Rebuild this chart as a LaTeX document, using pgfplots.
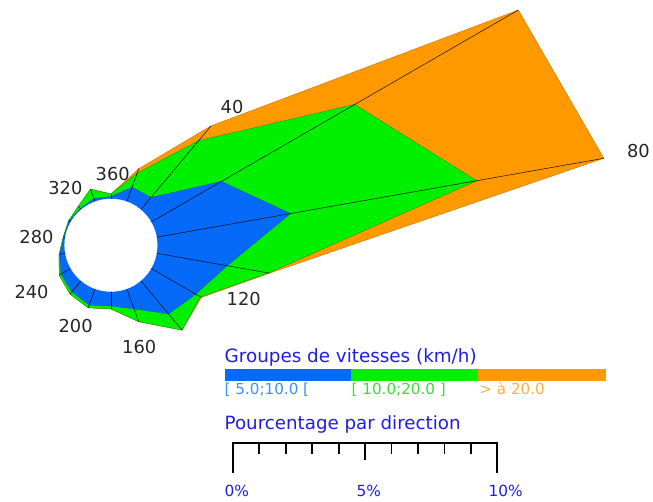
\documentclass[border=0pt]{standalone}
\usepackage{fontspec}
\setmainfont{DejaVu Sans}
\usepackage{pgfplots}
\usepackage{pgfplotstable}
\pgfplotsset{compat=1.18}
\definecolor{cblue}{RGB}{5,105,250}
\definecolor{cgreen}{RGB}{0,240,0}
\definecolor{corange}{RGB}{255,153,0}
\definecolor{ctext}{RGB}{30,30,225}
\definecolor{lblue}{RGB}{60,145,250}
\definecolor{lgreen}{RGB}{50,225,50}
\definecolor{lorange}{RGB}{255,175,60}

% cumulative percentages per direction (blue, blue+green, total)
\pgfplotstableread{
dir blue green orange
0   0.09 0.19 0.19
20  0.58 1.15 1.33
40  0.61 3.41 4.14
60  3.07 8.89 16.03
80  5.14 12.29 17.17
100 2.71 4.30 4.34
120 1.95 2.16 2.20
140 1.64 2.44 2.44
160 0.81 1.33 1.33
180 0.55 0.66 0.66
200 0.66 0.77 0.77
220 0.55 0.66 0.66
240 0.43 0.51 0.51
260 0.21 0.24 0.24
280 0.06 0.08 0.08
300 0.08 0.10 0.10
320 0.06 0.17 0.17
340 0.13 0.51 0.51
360 0.09 0.19 0.19
}\rose

\begin{document}
\begin{tikzpicture}
\begin{axis}[
  x=26.6bp, y=26.6bp,
  xmin=-4.1917, xmax=20.357, ymin=-9.680, ymax=9.267,
  hide axis, clip=false,
]
\path (rel axis cs:0,0) rectangle (rel axis cs:1,1);
% orange (total)
\addplot[fill=corange, draw=corange!70!black, line width=0.3bp]
  table[x expr={(\thisrow{orange}+1.748)*cos(90-\thisrow{dir})},
        y expr={(\thisrow{orange}+1.748)*sin(90-\thisrow{dir})}] {\rose};
% green
\addplot[fill=cgreen, draw=cgreen!60!black, line width=0.3bp]
  table[x expr={(\thisrow{green}+1.748)*cos(90-\thisrow{dir})},
        y expr={(\thisrow{green}+1.748)*sin(90-\thisrow{dir})}] {\rose};
% blue
\addplot[fill=cblue, draw=cblue!70!black, line width=0.3bp]
  table[x expr={(\thisrow{blue}+1.748)*cos(90-\thisrow{dir})},
        y expr={(\thisrow{blue}+1.748)*sin(90-\thisrow{dir})}] {\rose};
% rays
\addplot[black, line width=0.45bp, quiver={
    u={(\thisrow{orange}+1.748)*cos(90-\thisrow{dir})},
    v={(\thisrow{orange}+1.748)*sin(90-\thisrow{dir})}}]
  table[x expr=0, y expr=0] {\rose};
% calm circle
\addplot[only marks, mark=*, mark size=46.5bp, mark options={fill=white, draw=white}]
  coordinates {(0,0)};
\node[font=\fontsize{18}{21}\selectfont, text=black!85] at (axis cs:0,0) {47.3};
% direction labels
\begin{scope}[every node/.style={font=\fontsize{18}{21}\selectfont, text=black!85}]
\node at (axis cs:4.579,5.233) {40};
\node at (axis cs:19.932,3.564) {80};
\node at (axis cs:5.019,-2.038) {120};
\node at (axis cs:1.071,-3.835) {160};
\node at (axis cs:-1.335,-3.038) {200};
\node at (axis cs:-3.0,-1.786) {240};
\node at (axis cs:-2.812,0.308) {280};
\node at (axis cs:-1.722,2.162) {320};
\node at (axis cs:0.068,2.688) {360};
\end{scope}
% legend: speed groups
\node[anchor=base west, inner sep=0pt, text=ctext, font=\fontsize{18.5}{21}\selectfont] at (axis cs:4.293,-4.429) {Groupes de vitesses (km/h)};
\fill[cblue] (axis cs:4.293,-4.680) rectangle (axis cs:9.068,-5.143);
\fill[cgreen] (axis cs:9.068,-4.680) rectangle (axis cs:13.880,-5.143);
\fill[corange] (axis cs:13.880,-4.680) rectangle (axis cs:18.703,-5.143);
\node[anchor=base west, inner sep=0pt, text=lblue, font=\fontsize{15.3}{18}\selectfont] at (axis cs:4.293,-5.647) {[ 5.0;10.0 [};
\node[anchor=base west, inner sep=0pt, text=lgreen, font=\fontsize{15.3}{18}\selectfont] at (axis cs:9.093,-5.647) {[ 10.0;20.0 ]};
\node[anchor=base west, inner sep=0pt, text=lorange, font=\fontsize{15.3}{18}\selectfont] at (axis cs:13.917,-5.647) {> à 20.0};
% legend: percentage scale
\node[anchor=base west, inner sep=0pt, text=ctext, font=\fontsize{18.4}{21}\selectfont] at (axis cs:4.293,-6.962) {Pourcentage par direction};
\draw[line width=1.8bp] (axis cs:4.605,-8.590) -- (axis cs:4.605,-7.489) -- (axis cs:14.605,-7.489) -- (axis cs:14.605,-8.590);
\draw[line width=1.8bp] (axis cs:9.605,-7.489) -- (axis cs:9.605,-8.128);
\pgfplotsinvokeforeach{5.605,6.605,7.605,8.605,10.605,11.605,12.605,13.605}{
  \draw[line width=1.8bp] (axis cs:#1,-7.489) -- (axis cs:#1,-7.902);
}
\begin{scope}[every node/.style={anchor=base, inner sep=0pt, text=ctext, font=\fontsize{15.5}{18}\selectfont}]
\node at (axis cs:4.756,-9.492) {0\%};
\node at (axis cs:9.748,-9.492) {5\%};
\node at (axis cs:14.917,-9.492) {10\%};
\end{scope}
\end{axis}
\end{tikzpicture}
\end{document}
